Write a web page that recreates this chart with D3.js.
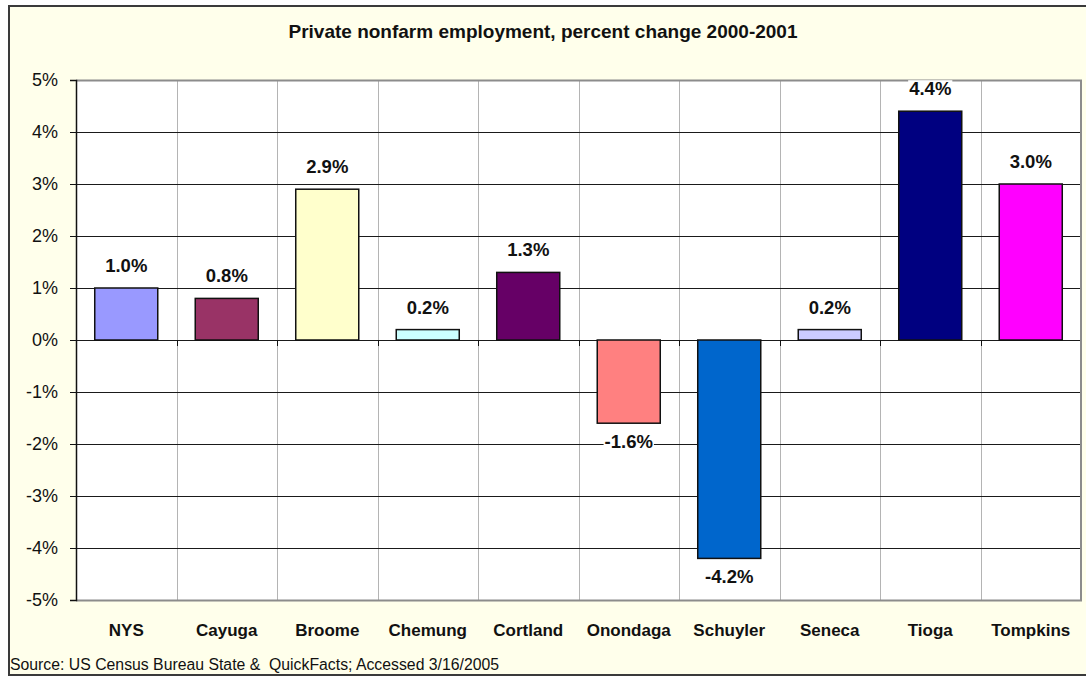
<!DOCTYPE html>
<html>
<head>
<meta charset="utf-8">
<script src="https://cdn.jsdelivr.net/npm/d3@7"></script>
<style>
  html, body { margin: 0; padding: 0; background: #ffffff; }
  svg { display: block; font-family: Arial, "Liberation Sans", sans-serif; }
</style>
</head>
<body>
<svg id="chart" width="1086" height="677"></svg>
<script>
// Private nonfarm employment, percent change 2000-2001
const categories = ["NYS", "Cayuga", "Broome", "Chemung", "Cortland", "Onondaga", "Schuyler", "Seneca", "Tioga", "Tompkins"];
const values = [1.0, 0.8, 2.9, 0.2, 1.3, -1.6, -4.2, 0.2, 4.4, 3.0];
const barColors = ["#9999FF", "#993366", "#FFFFCC", "#CCFFFF", "#660066", "#FF8080", "#0066CC", "#CCCCFF", "#000080", "#FF00FF"];
const yTicks = [-5, -4, -3, -2, -1, 0, 1, 2, 3, 4, 5];
const titleText = "Private nonfarm employment, percent change 2000-2001";
const sourceText = "Source: US Census Bureau State &  QuickFacts; Accessed 3/16/2005";

const svg = d3.select("#chart");
const W = 1086, H = 677;
const plot = { left: 76, right: 1081, top: 80, bottom: 600 };

// chart frame
svg.append("rect")
  .attr("x", 9).attr("y", 6).attr("width", W + 10).attr("height", 669)
  .attr("fill", "#FFFFEB").attr("stroke", "#3a3a3a").attr("stroke-width", 2);

const x = d3.scaleBand()
  .domain(categories)
  .range([plot.left, plot.right])
  .paddingInner(0.373)
  .paddingOuter(0.1865);

const y = d3.scaleLinear().domain([-5, 5]).range([plot.bottom, plot.top]);

// plot area
svg.append("rect")
  .attr("x", plot.left).attr("y", plot.top)
  .attr("width", plot.right - plot.left).attr("height", plot.bottom - plot.top)
  .attr("fill", "#ffffff");

// vertical gridlines at category boundaries
const step = x.step();
const bounds = d3.range(1, categories.length).map(i => plot.left + i * step);
svg.append("g").selectAll("line").data(bounds).join("line")
  .attr("x1", d => Math.round(d) + 0.5).attr("x2", d => Math.round(d) + 0.5)
  .attr("y1", plot.top).attr("y2", plot.bottom)
  .attr("stroke", "#b4b4b4").attr("stroke-width", 1);

// horizontal gridlines
svg.append("g").selectAll("line").data(yTicks.filter(t => t > -5 && t < 5)).join("line")
  .attr("x1", plot.left).attr("x2", plot.right)
  .attr("y1", d => Math.round(y(d)) + 0.5).attr("y2", d => Math.round(y(d)) + 0.5)
  .attr("stroke", "#1a1a1a").attr("stroke-width", 1);

// plot border (top, right, bottom)
svg.append("path")
  .attr("d", `M${plot.left},${plot.top + 0.5}H${plot.right}V${plot.bottom + 0.5}H${plot.left}`)
  .attr("fill", "none").attr("stroke", "#8c8c8c").attr("stroke-width", 2);

// bars
svg.append("g").selectAll("rect").data(values).join("rect")
  .attr("x", (d, i) => x(categories[i]))
  .attr("y", d => y(Math.max(0, d)))
  .attr("width", x.bandwidth())
  .attr("height", d => Math.abs(y(d) - y(0)))
  .attr("fill", (d, i) => barColors[i])
  .attr("stroke", "#111").attr("stroke-width", 1.5);

// y axis
const yAxis = svg.append("g")
  .attr("transform", `translate(${plot.left},0)`)
  .call(d3.axisLeft(y).tickValues(yTicks).tickFormat(d => d + "%").tickSize(6).tickPadding(12));
yAxis.select(".domain").attr("stroke", "#111").attr("stroke-width", 1.5);
yAxis.selectAll(".tick line").attr("stroke", "#111");
yAxis.selectAll(".tick text")
  .attr("font-size", 18).attr("fill", "#111").attr("font-family", "Arial, 'Liberation Sans', sans-serif");

// category axis ticks on the zero line
svg.append("g").selectAll("line").data(bounds).join("line")
  .attr("x1", d => Math.round(d) + 0.5).attr("x2", d => Math.round(d) + 0.5)
  .attr("y1", y(0)).attr("y2", y(0) + 6)
  .attr("stroke", "#111").attr("stroke-width", 1);

// category labels
svg.append("g").selectAll("text").data(categories).join("text")
  .attr("x", d => x(d) + x.bandwidth() / 2)
  .attr("y", 636)
  .attr("text-anchor", "middle")
  .attr("font-size", 17).attr("font-weight", "bold").attr("fill", "#111")
  .text(d => d);

// value labels with white backing
const labels = svg.append("g").selectAll("g").data(values).join("g")
  .attr("transform", (d, i) => {
    const cx = x(categories[i]) + x.bandwidth() / 2;
    const by = d >= 0 ? y(d) - 16 : y(d) + 25;
    return `translate(${cx},${by})`;
  });
labels.append("text")
  .attr("text-anchor", "middle")
  .attr("font-size", 18.5).attr("font-weight", "bold").attr("fill", "#111")
  .text(d => d.toFixed(1) + "%");
labels.each(function () {
  const g = d3.select(this);
  const bb = g.select("text").node().getBBox();
  g.insert("rect", "text")
    .attr("x", bb.x - 1).attr("y", bb.y + 2).attr("width", bb.width + 2).attr("height", bb.height - 2)
    .attr("fill", "#ffffff");
});

// title
svg.append("text")
  .attr("x", 543).attr("y", 38)
  .attr("text-anchor", "middle")
  .attr("font-size", 19).attr("font-weight", "bold").attr("fill", "#111")
  .text(titleText);

// source note
svg.append("text")
  .attr("x", 10).attr("y", 670)
  .attr("font-size", 15.8).attr("fill", "#111")
  .style("white-space", "pre")
  .text(sourceText);
</script>
</body>
</html>
